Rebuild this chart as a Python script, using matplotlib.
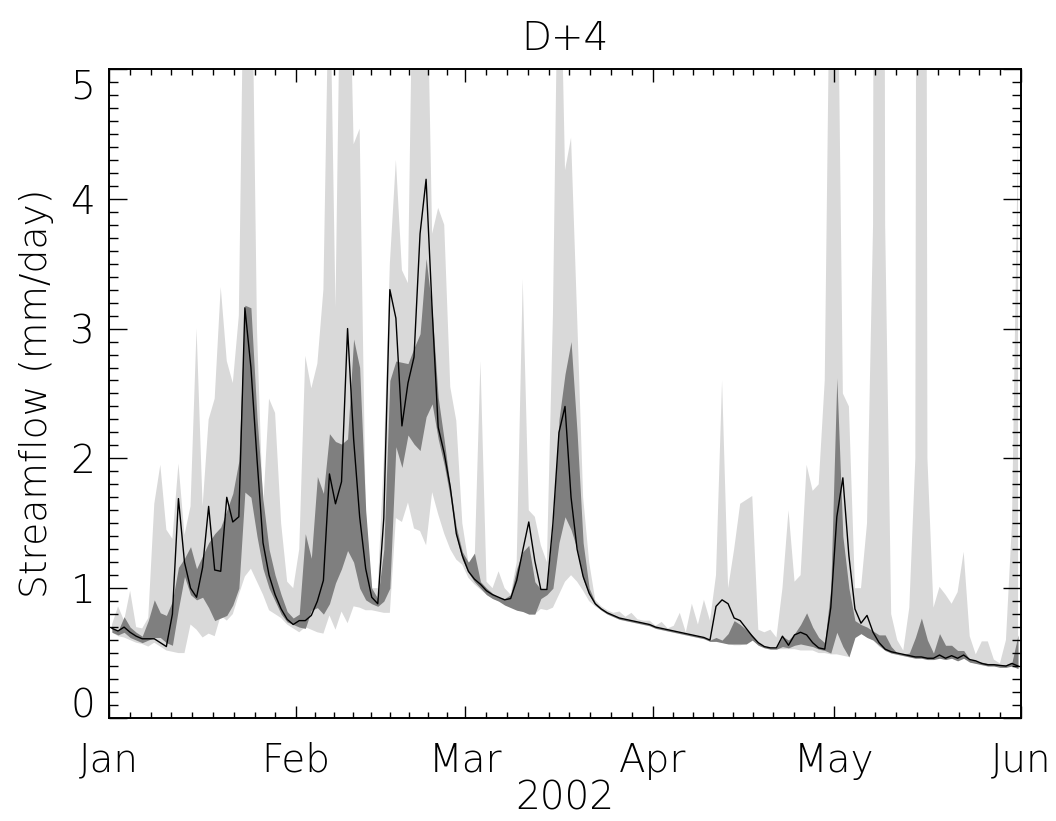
import matplotlib
matplotlib.use("Agg")
import matplotlib.pyplot as plt
import numpy as np

# daily values, Jan 1 .. May 31 2002 (plotted at mid-day)
obs = [0.69, 0.67, 0.70, 0.66, 0.63, 0.61, 0.61, 0.61, 0.58, 0.55,
       0.80, 1.69, 1.20, 1.00, 0.93, 1.16, 1.63, 1.14, 1.13, 1.70,
       1.51, 1.55, 3.16, 2.70, 2.00, 1.35, 1.10, 0.95, 0.84, 0.76,
       0.72, 0.75, 0.75, 0.79, 0.90, 1.06, 1.88, 1.65, 1.82, 3.00,
       2.15, 1.55, 1.15, 0.93, 0.88, 1.54, 3.30, 3.08, 2.25, 2.58,
       2.78, 3.73, 4.15, 3.15, 2.24, 2.04, 1.78, 1.42, 1.25, 1.13,
       1.07, 1.03, 0.98, 0.95, 0.93, 0.91, 0.92, 1.06, 1.29, 1.51,
       1.21, 0.99, 0.99, 1.50, 2.20, 2.40, 1.70, 1.30, 1.09, 0.96,
       0.88, 0.84, 0.81, 0.79, 0.77, 0.76, 0.75, 0.74, 0.73, 0.72,
       0.70, 0.69, 0.68, 0.67, 0.66, 0.65, 0.64, 0.63, 0.62, 0.60,
       0.86, 0.91, 0.88, 0.77, 0.75, 0.69, 0.63, 0.58, 0.55, 0.54,
       0.54, 0.63, 0.56, 0.64, 0.66, 0.64, 0.58, 0.54, 0.53, 0.85,
       1.55, 1.85, 1.25, 0.84, 0.73, 0.79, 0.66, 0.58, 0.53, 0.51,
       0.50, 0.49, 0.48, 0.47, 0.47, 0.46, 0.46, 0.485, 0.46, 0.48,
       0.46, 0.485, 0.45, 0.44, 0.42, 0.41, 0.41, 0.405, 0.40, 0.42, 0.40]

# full ensemble range (light band)
ens_hi = [0.72, 0.86, 0.75, 0.98, 0.70, 0.69, 0.77, 1.65, 1.95, 1.45,
          1.38, 1.96, 1.41, 1.63, 3.00, 1.63, 2.30, 2.46, 3.32, 2.75,
          2.58, 3.10, 6.5, 6.5, 3.0, 1.6, 2.46, 2.35, 1.5, 1.05,
          1.0, 1.3, 2.79, 2.54, 2.73, 3.3, 6.0, 3.16, 6.5, 6.5,
          4.42, 4.54, 1.6, 1.0, 1.0, 2.0, 3.5, 4.3, 3.45, 3.35,
          6.5, 6.5, 6.2, 3.73, 3.93, 3.8, 2.55, 2.29, 1.5, 1.2,
          1.15, 2.75, 1.05, 1.0, 1.13, 1.0, 0.95, 1.2, 3.38, 1.6,
          1.55, 1.33, 1.2, 3.1, 6.5, 4.22, 4.47, 3.1, 1.7, 1.2,
          0.91, 0.86, 0.83, 0.81, 0.82, 0.78, 0.81, 0.76, 0.75, 0.75,
          0.71, 0.74, 0.69, 0.71, 0.81, 0.66, 0.88, 0.72, 0.91, 0.75,
          1.1, 2.6, 1.0, 1.3, 1.65, 1.68, 1.71, 0.68, 0.66, 0.68,
          0.62, 1.0, 1.6, 1.05, 1.1, 1.95, 1.75, 1.8, 2.6, 6.5,
          6.5, 2.5, 2.4, 1.0, 1.0, 1.5, 3.8, 30.0, 3.8, 0.8,
          0.6, 0.52, 0.85, 2.0, 30.0, 2.0, 0.85, 1.01, 0.95, 0.88,
          0.97, 1.28, 0.63, 0.49, 0.59, 0.59, 0.45, 0.42, 0.6, 1.5, 4.5]
ens_lo = [0.66, 0.63, 0.62, 0.60, 0.58, 0.57, 0.55, 0.58, 0.55, 0.52,
          0.51, 0.50, 0.50, 0.72, 0.68, 0.62, 0.65, 0.63, 0.79, 0.75,
          0.80, 0.95, 1.09, 1.15, 1.05, 0.95, 0.83, 0.80, 0.77, 0.72,
          0.69, 0.66, 0.70, 0.68, 0.66, 0.65, 0.79, 0.68, 0.82, 0.73,
          0.86, 0.85, 0.83, 0.83, 0.82, 0.81, 0.81, 1.54, 1.51, 1.66,
          1.46, 1.44, 1.33, 1.74, 1.57, 1.42, 1.30, 1.22, 1.18, 1.08,
          1.03, 0.99, 0.95, 0.92, 0.90, 0.88, 0.86, 0.84, 0.82, 0.81,
          0.80, 0.84, 0.83, 0.85, 0.95, 1.05, 1.10, 1.05, 0.98, 0.90,
          0.86, 0.83, 0.80, 0.78, 0.76, 0.75, 0.74, 0.73, 0.72, 0.71,
          0.69, 0.68, 0.67, 0.66, 0.65, 0.64, 0.63, 0.62, 0.61, 0.59,
          0.59, 0.58, 0.57, 0.56, 0.56, 0.57, 0.60, 0.56, 0.54, 0.53,
          0.53, 0.53, 0.53, 0.53, 0.52, 0.52, 0.52, 0.50, 0.50, 0.49,
          0.49, 0.48, 0.47, 0.65, 0.65, 0.62, 0.60, 0.55, 0.52, 0.50,
          0.49, 0.48, 0.47, 0.46, 0.46, 0.45, 0.45, 0.46, 0.45, 0.46,
          0.44, 0.46, 0.43, 0.42, 0.41, 0.40, 0.40, 0.39, 0.39, 0.40, 0.38]

# inner range (dark band)
mid_hi = [0.70, 0.67, 0.78, 0.70, 0.66, 0.63, 0.75, 0.91, 0.81, 0.79,
          0.90, 1.16, 1.23, 1.32, 1.15, 1.25, 1.35, 1.42, 1.47, 1.60,
          1.73, 1.98, 3.18, 3.16, 2.32, 1.68, 1.30, 1.10, 0.95, 0.82,
          0.77, 0.80, 1.42, 1.23, 1.86, 1.73, 2.19, 2.13, 2.11, 2.15,
          2.92, 2.70, 1.60, 1.00, 0.92, 1.30, 2.60, 2.75, 2.74, 2.73,
          2.85, 2.96, 3.54, 3.14, 2.47, 2.14, 1.78, 1.47, 1.28, 1.20,
          1.27, 1.05, 1.00, 0.96, 0.93, 0.92, 0.95, 1.15, 1.28, 1.33,
          1.05, 0.99, 1.00, 1.50, 2.30, 2.65, 2.90, 2.20, 1.35, 1.00,
          0.89, 0.84, 0.81, 0.79, 0.77, 0.76, 0.75, 0.74, 0.73, 0.72,
          0.70, 0.69, 0.68, 0.67, 0.66, 0.65, 0.64, 0.63, 0.62, 0.60,
          0.62, 0.60, 0.65, 0.75, 0.72, 0.68, 0.64, 0.58, 0.55, 0.54,
          0.54, 0.63, 0.60, 0.65, 0.72, 0.81, 0.70, 0.62, 0.58, 1.00,
          2.62, 1.40, 1.00, 0.75, 0.72, 0.70, 0.67, 0.64, 0.64, 0.55,
          0.50, 0.49, 0.50, 0.62, 0.77, 0.60, 0.50, 0.65, 0.56, 0.56,
          0.52, 0.52, 0.45, 0.44, 0.43, 0.42, 0.42, 0.41, 0.41, 0.43, 0.64]
mid_lo = [0.66, 0.64, 0.66, 0.62, 0.60, 0.58, 0.60, 0.62, 0.62, 0.58,
          0.56, 0.84, 1.09, 0.95, 0.91, 0.93, 0.85, 0.75, 0.77, 0.79,
          0.87, 1.00, 1.74, 1.70, 1.40, 1.15, 1.00, 0.90, 0.80, 0.74,
          0.72, 0.70, 0.69, 0.83, 0.85, 0.80, 0.88, 1.04, 1.15, 1.29,
          1.20, 1.00, 0.91, 0.88, 0.86, 0.90, 1.00, 2.09, 1.93, 2.18,
          2.11, 2.06, 2.32, 2.42, 2.15, 1.95, 1.70, 1.40, 1.22, 1.12,
          1.05, 1.00, 0.95, 0.92, 0.90, 0.87, 0.85, 0.83, 0.82, 0.80,
          0.80, 0.92, 0.95, 1.00, 1.35, 1.55, 1.45, 1.30, 1.07, 0.95,
          0.87, 0.83, 0.80, 0.78, 0.76, 0.75, 0.74, 0.73, 0.72, 0.71,
          0.69, 0.68, 0.67, 0.66, 0.65, 0.64, 0.63, 0.62, 0.61, 0.59,
          0.59, 0.58, 0.57, 0.57, 0.57, 0.57, 0.60, 0.56, 0.54, 0.53,
          0.53, 0.55, 0.54, 0.56, 0.57, 0.56, 0.55, 0.53, 0.52, 0.50,
          0.66, 0.55, 0.47, 0.62, 0.65, 0.62, 0.60, 0.56, 0.52, 0.50,
          0.49, 0.48, 0.47, 0.46, 0.46, 0.45, 0.45, 0.46, 0.45, 0.46,
          0.44, 0.46, 0.43, 0.42, 0.41, 0.40, 0.40, 0.39, 0.39, 0.40, 0.38]

month_start = [0, 31, 59, 90, 120, 151]
month_names = ['Jan', 'Feb', 'Mar', 'Apr', 'May', 'Jun']

plt.rcParams['font.family'] = ['DejaVu Sans']
plt.rcParams['font.weight'] = 'light'
plt.rcParams['axes.titleweight'] = 'light'
plt.rcParams['axes.labelweight'] = 'light'

days = np.arange(len(obs)) + 0.5

fig = plt.figure(figsize=(10.56, 8.21), dpi=100)
ax = fig.add_axes([0.1032, 0.1255, 0.8637, 0.7905])

ax.fill_between(days, ens_lo, ens_hi, color='#d9d9d9', lw=0)
ax.fill_between(days, mid_lo, mid_hi, color='#7f7f7f', lw=0)
ax.plot(days, obs, color='k', lw=1)

ax.set_xlim(0, 151)
ax.set_ylim(0, 5)

minor = []
for a, b in zip(month_start[:-1], month_start[1:]):
    minor += list(a + (b - a) * np.arange(1, 9) / 9.0)
ax.set_xticks(month_start, labels=month_names)
ax.set_xticks(minor, minor=True)
ax.set_yticks(range(6), labels=[str(v) for v in range(6)])
ax.set_yticks(np.arange(0, 5.01, 0.1), minor=True)

ax.tick_params(axis='both', which='both', direction='in', top=True, right=True,
               labelsize=28, color='k')
ax.tick_params(axis='x', which='major', length=9, width=1, pad=17)
ax.tick_params(axis='x', which='minor', length=4.5, width=1)
ax.tick_params(axis='y', which='major', length=13, width=1, pad=10)
ax.tick_params(axis='y', which='minor', length=6.5, width=1)

ylabs = ax.get_yticklabels()
ylabs[0].set_va('baseline')
ylabs[-1].set_va('top')

for s in ax.spines.values():
    s.set_linewidth(1.4)

ax.set_title('D+4', fontsize=28, pad=14)
ax.set_xlabel('2002', fontsize=28, labelpad=0)
ax.set_ylabel('Streamflow (mm/day)', fontsize=27, labelpad=12)

fig.savefig('out.png', dpi=100)
